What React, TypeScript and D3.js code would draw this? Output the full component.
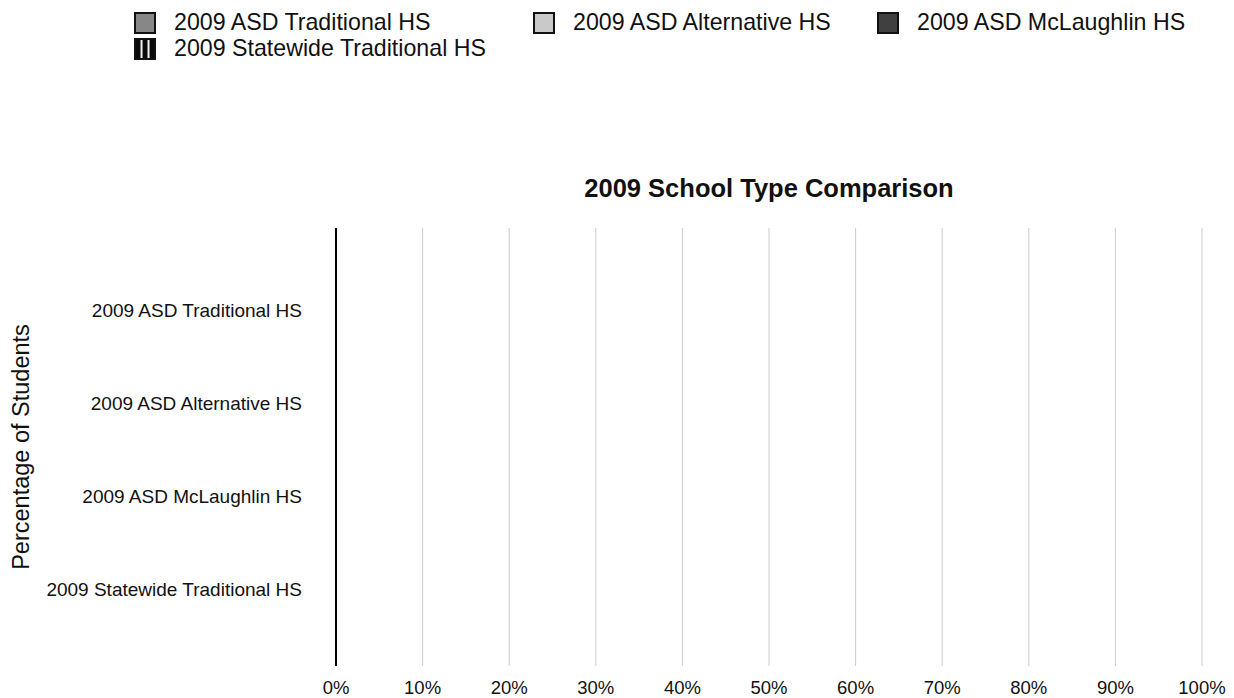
import * as d3 from "d3";
import React from "react";

// categories / series (the chart shows no bars: every value is 0)
const categories = [
  "2009 ASD Traditional HS",
  "2009 ASD Alternative HS",
  "2009 ASD McLaughlin HS",
  "2009 Statewide Traditional HS",
];
const values = [0, 0, 0, 0];
const xTicks = [0, 10, 20, 30, 40, 50, 60, 70, 80, 90, 100];
const legendItems = [
  "2009 ASD Traditional HS",
  "2009 ASD Alternative HS",
  "2009 ASD McLaughlin HS",
  "2009 Statewide Traditional HS",
];

const fills = ["#878787", "#c9c9c9", "#404040", "url(#stripes)"];
const font = "'Liberation Sans', Arial, Helvetica, sans-serif";

const App = () => {
  const width = 1234;
  const height = 698;
  const plot = { left: 336, right: 1202, top: 228, bottom: 666 };

  const x = d3.scaleLinear().domain([0, 100]).range([plot.left, plot.right]);
  const y = d3
    .scaleBand()
    .domain(categories)
    .range([plot.top + 35.5, plot.bottom - 30.5])
    .paddingInner(0.3)
    .paddingOuter(0.15);

  // legend layout: 3 per row
  const legendX = [134, 533, 877];
  const legendPos = legendItems.map((d, i) => ({
    x: legendX[i % 3],
    y: 12 + Math.floor(i / 3) * 26,
  }));

  return (
    <svg
      width={width}
      height={height}
      style={{ position: "absolute", left: 0, top: 0, fontFamily: font }}
    >
      <defs>
        <pattern id="stripes" x="135" width="7" height="22" patternUnits="userSpaceOnUse">
          <rect width="7" height="22" fill="#0a0a0a" />
          <rect x="4" width="1" height="22" fill="#777" />
          <rect x="5" width="1.5" height="22" fill="#f2f2f2" />
          <rect x="6.5" width="0.5" height="22" fill="#888" />
        </pattern>
      </defs>
      <rect width={width} height={height} fill="#fff" />

      {/* legend */}
      {legendItems.map((d, i) => (
        <g key={d} transform={`translate(${legendPos[i].x},${legendPos[i].y})`}>
          <rect
            x={1}
            y={1}
            width={20}
            height={20}
            fill={fills[i]}
            stroke="#111"
            strokeWidth={2}
          />
          <text x={40} y={18} fontSize={23.2} fill="#111">
            {d}
          </text>
        </g>
      ))}

      {/* title */}
      <text
        x={(plot.left + plot.right) / 2}
        y={197}
        textAnchor="middle"
        fontSize={25.5}
        fontWeight="bold"
        fill="#111"
      >
        2009 School Type Comparison
      </text>

      {/* grid */}
      {xTicks.slice(1).map((t) => (
        <line
          key={t}
          x1={x(t)}
          x2={x(t)}
          y1={plot.top}
          y2={plot.bottom}
          stroke="#cccccc"
          strokeWidth={1}
        />
      ))}

      {/* bars */}
      {categories.map((c, i) => (
        <rect
          key={c}
          x={x(0)}
          y={y(c)}
          width={x(values[i]) - x(0)}
          height={y.bandwidth()}
          fill={fills[i]}
        />
      ))}

      {/* axis line */}
      <line
        x1={x(0)}
        x2={x(0)}
        y1={plot.top}
        y2={plot.bottom}
        stroke="#000"
        strokeWidth={2}
      />

      {/* tick labels */}
      {xTicks.map((t) => (
        <text
          key={t}
          x={x(t)}
          y={694}
          textAnchor="middle"
          fontSize={18.5}
          fill="#111"
        >
          {t}%
        </text>
      ))}

      {categories.map((c) => (
        <text
          key={c}
          x={302}
          y={y(c) + y.bandwidth() / 2 + 7}
          textAnchor="end"
          fontSize={19}
          fill="#111"
        >
          {c}
        </text>
      ))}

      {/* y axis title */}
      <text
        transform={`translate(29,${(plot.top + plot.bottom) / 2}) rotate(-90)`}
        textAnchor="middle"
        fontSize={23.5}
        fill="#111"
      >
        Percentage of Students
      </text>
    </svg>
  );
};

export default App;
